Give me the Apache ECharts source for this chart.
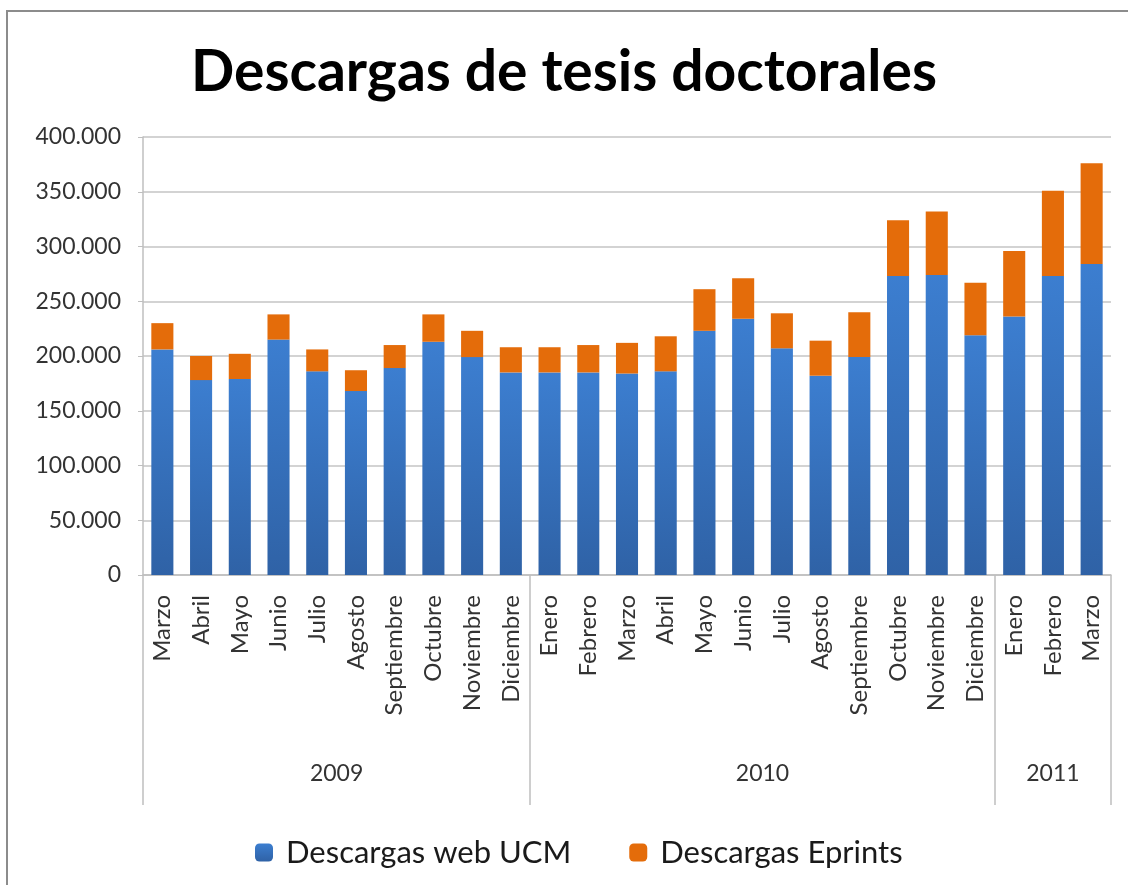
<!DOCTYPE html>
<html>
<head>
<meta charset="utf-8">
<script src="https://cdn.jsdelivr.net/npm/echarts@6/dist/echarts.min.js"></script>
<style>
  html, body { margin: 0; padding: 0; background: #fff; }
  #chart { width: 1128px; height: 885px; }
</style>
</head>
<body>
<div id="chart"></div>
<script>
// meses (eje de categorias)
var meses = ['Marzo', 'Abril', 'Mayo', 'Junio', 'Julio', 'Agosto', 'Septiembre', 'Octubre', 'Noviembre', 'Diciembre',
    'Enero', 'Febrero', 'Marzo', 'Abril', 'Mayo', 'Junio', 'Julio', 'Agosto', 'Septiembre', 'Octubre', 'Noviembre', 'Diciembre',
    'Enero', 'Febrero', 'Marzo'];
// años y cuantos meses tiene cada uno
var anios = ['2009', '2010', '2011'];
var mesesPorAnio = [10, 12, 3];

var webUCM = [206000, 178000, 179000, 215000, 186000, 168000, 189000, 213000, 199000, 185000,
    185000, 185000, 184000, 186000, 223000, 234000, 207000, 182000, 199000, 273000, 274000, 219000,
    236000, 273000, 284000];
var eprints = [24000, 22000, 23000, 23000, 20000, 19000, 21000, 25000, 24000, 23000,
    23000, 25000, 28000, 32000, 38000, 37000, 32000, 32000, 41000, 51000, 58000, 48000,
    60000, 78000, 92000];

var yTicks = { min: 0, max: 400000, interval: 50000 };

// separadores y posicion de etiquetas de año
var separadores = [0];
var centros = [];
var acum = 0;
for (var i = 0; i < mesesPorAnio.length; i++) {
    centros.push(acum + mesesPorAnio[i] / 2);
    acum += mesesPorAnio[i];
    separadores.push(acum);
}

function miles(v) {
    return String(v).replace(/\B(?=(\d{3})+(?!\d))/g, '.');
}

var fuente = 'Lato';
var chart = echarts.init(document.getElementById('chart'));
var option = {
    backgroundColor: '#fff',
    animation: false,
    textStyle: { fontFamily: fuente },
    graphic: [{
        type: 'rect',
        silent: true,
        shape: { x: 7, y: 11, width: 1200, height: 1000 },
        style: { fill: 'none', stroke: '#8c8c8c', lineWidth: 2 }
    }],
    title: {
        text: 'Descargas de tesis doctorales',
        left: 'center',
        top: 39,
        textStyle: { fontFamily: fuente, fontSize: 57, fontWeight: 'bold', color: '#000' }
    },
    legend: {
        top: 832,
        left: 250,
        itemWidth: 18,
        itemHeight: 18,
        itemGap: 58,
        textStyle: { fontFamily: fuente, fontSize: 31, color: '#1a1a1a', padding: [0, 0, 0, 8] },
        data: ['Descargas web UCM', 'Descargas Eprints']
    },
    grid: { left: 143, right: 17, top: 137, bottom: 310 },
    xAxis: [{
        type: 'category',
        data: meses,
        axisLine: { lineStyle: { color: '#bfbfbf', width: 1.5 } },
        axisTick: { show: false },
        axisLabel: {
            interval: 0,
            rotate: 90,
            margin: 20,
            fontFamily: fuente,
            fontSize: 24,
            color: '#333'
        }
    }, {
        // nivel de años
        type: 'value',
        position: 'bottom',
        offset: 0,
        min: 0,
        max: meses.length,
        axisLine: { show: false },
        splitLine: { show: false },
        axisTick: {
            show: true,
            customValues: separadores,
            length: 230,
            lineStyle: { color: '#bfbfbf', width: 1.5 }
        },
        axisLabel: {
            customValues: centros,
            margin: 187,
            fontFamily: fuente,
            fontSize: 23,
            color: '#333',
            formatter: function (v) {
                return anios[centros.indexOf(v)];
            }
        }
    }],
    yAxis: {
        type: 'value',
        min: yTicks.min,
        max: yTicks.max,
        interval: yTicks.interval,
        axisLine: { show: true, lineStyle: { color: '#bfbfbf', width: 1.5 } },
        axisTick: { show: true, length: 5, lineStyle: { color: '#bfbfbf' } },
        splitLine: { lineStyle: { color: '#c4c4c4', width: 1.5 } },
        axisLabel: {
            margin: 22,
            fontFamily: fuente,
            fontSize: 23,
            color: '#333',
            formatter: miles
        }
    },
    series: [{
        name: 'Descargas web UCM',
        type: 'bar',
        stack: 'total',
        barWidth: '57%',
        data: webUCM,
        itemStyle: {
            color: new echarts.graphic.LinearGradient(0, 0, 0, 1, [
                { offset: 0, color: '#3c7ed0' },
                { offset: 1, color: '#2f62a6' }
            ])
        }
    }, {
        name: 'Descargas Eprints',
        type: 'bar',
        stack: 'total',
        barWidth: '57%',
        data: eprints,
        itemStyle: { color: '#e46c0a' }
    }]
};
chart.setOption(option);
</script>
</body>
</html>
